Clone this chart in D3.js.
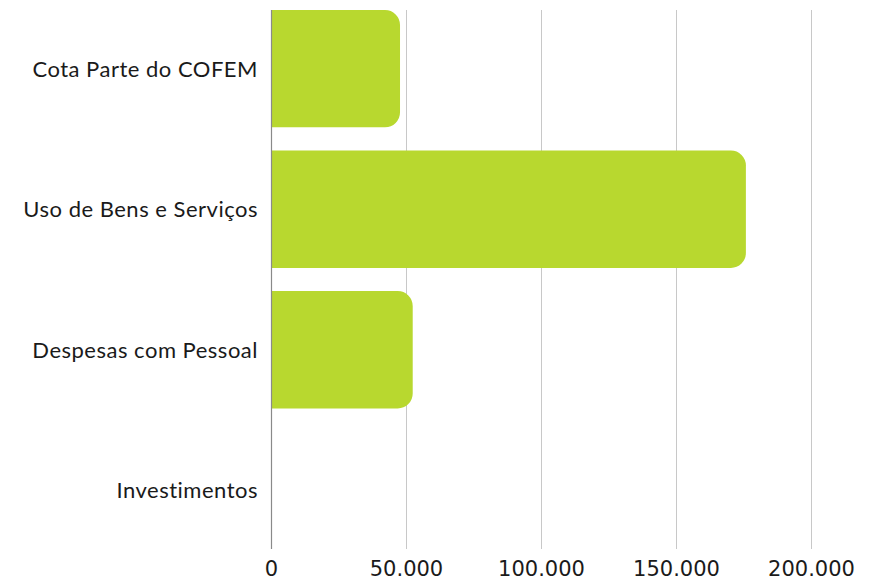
<!DOCTYPE html>
<html>
<head>
<meta charset="utf-8">
<script src="https://cdn.jsdelivr.net/npm/d3@7"></script>
<style>
  html, body { margin: 0; padding: 0; background: #ffffff; }
  svg { display: block; }
</style>
</head>
<body>
<script>
const categories = ["Cota Parte do COFEM", "Uso de Bens e Serviços", "Despesas com Pessoal", "Investimentos"];
const values = [47600, 175700, 52300, 0];
const tickValues = [0, 50000, 100000, 150000, 200000];
const tickLabels = ["0", "50.000", "100.000", "150.000", "200.000"];

const W = 881, H = 582;
const svg = d3.select("body").append("svg").attr("width", W).attr("height", H);

const x = d3.scaleLinear().domain([0, 200000]).range([271.5, 811.5]);
const y = d3.scaleBand().domain(categories).range([10, 549]).paddingInner(0.165).paddingOuter(0);

// gridlines
svg.append("g").selectAll("line").data(tickValues.slice(1)).join("line")
  .attr("x1", d => x(d)).attr("x2", d => x(d))
  .attr("y1", 10).attr("y2", 549)
  .attr("stroke", "#c8c8c8").attr("stroke-width", 1);

// bars with rounded right corners
const r = 15;
function barPath(x0, x1, y0, h) {
  const w = x1 - x0;
  if (w <= 0) return "";
  const rr = Math.min(r, w, h / 2);
  return `M${x0},${y0}H${x1 - rr}A${rr},${rr} 0 0 1 ${x1},${y0 + rr}V${y0 + h - rr}A${rr},${rr} 0 0 1 ${x1 - rr},${y0 + h}H${x0}Z`;
}
svg.append("g").selectAll("path").data(categories).join("path")
  .attr("d", (c, i) => barPath(x(0), x(values[i]), y(c), y.bandwidth()))
  .attr("fill", "#b8d82f");

// axis line
svg.append("line").attr("x1", x(0)).attr("x2", x(0)).attr("y1", 10).attr("y2", 549)
  .attr("stroke", "#8a8a8a").attr("stroke-width", 1.2);

// category labels
svg.append("g").selectAll("text").data(categories).join("text")
  .attr("x", 258).attr("y", c => y(c) + y.bandwidth() / 2)
  .attr("dy", "0.36em")
  .attr("text-anchor", "end")
  .attr("font-family", "Lato, sans-serif")
  .attr("font-size", 22)
  .attr("letter-spacing", "0.5px")
  .attr("fill", "#1a1a1a")
  .text(c => c);

// tick labels
svg.append("g").selectAll("text").data(tickValues).join("text")
  .attr("x", d => x(d)).attr("y", 576)
  .attr("text-anchor", "middle")
  .attr("font-family", "'DejaVu Sans', sans-serif")
  .attr("font-size", 21)
  .attr("fill", "#1a1a1a")
  .text((d, i) => tickLabels[i]);
</script>
</body>
</html>
